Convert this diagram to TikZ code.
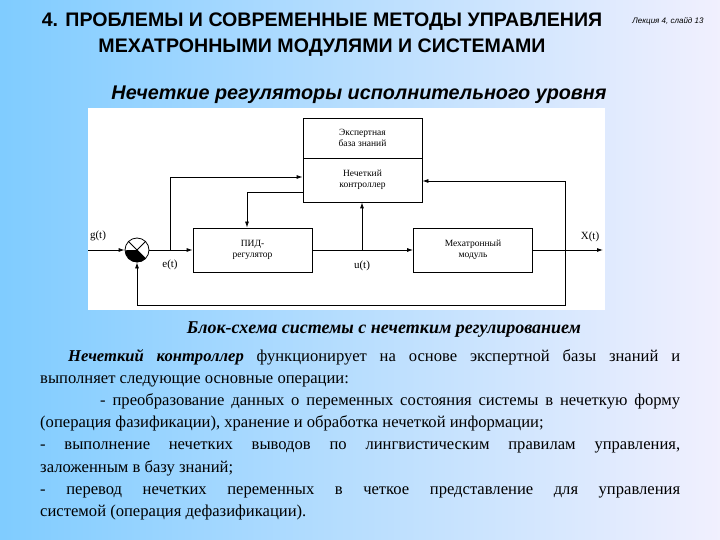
\documentclass[tikz,border=0pt]{standalone}
\usepackage{fontspec}
\setmainfont{Liberation Serif}
\newfontfamily\arialf{Liberation Sans}
\usetikzlibrary{arrows.meta}
\begin{document}
\begin{tikzpicture}[x=1pt,y=-1pt,
  blk/.style={draw,thick,minimum width=119pt,minimum height=44pt,align=center,font=\fontsize{9.5}{11}\selectfont},
  ln/.style={thick},
  ar/.style={thick,-{Latex[length=6pt,width=4pt]}},
  lbl/.style={font=\fontsize{11}{12}\selectfont}]
\shade[left color=blue!40!cyan!50!white,right color=red!8!blue!6!white,shading angle=90] (0,0) rectangle (720,540);
\useasboundingbox (0,0) rectangle (720,540);
\node[font=\arialf\bfseries\fontsize{19.6}{26}\selectfont,align=center] (title) at (322,35) {4. ПРОБЛЕМЫ И СОВРЕМЕННЫЕ МЕТОДЫ УПРАВЛЕНИЯ\\МЕХАТРОННЫМИ МОДУЛЯМИ И СИСТЕМАМИ};
\node[font=\arialf\itshape\fontsize{8}{10}\selectfont] (slide) at (668,21) {Лекция 4, слайд 13};
\node[font=\arialf\bfseries\itshape\fontsize{19.8}{22}\selectfont] (sub) at (359,95) {Нечеткие регуляторы исполнительного уровня};
\fill[white] (88,108) rectangle (605,310);
% blocks
\node[blk,minimum height=40pt] (exp) at (362.5,138) {Экспертная\\база знаний};
\node[blk] (fz) at (362.5,180) {Нечеткий\\контроллер};
\node[blk] (pid) at (252.5,250) {ПИД-\\регулятор};
\node[blk] (mm) at (473,250) {Мехатронный\\модуль};
\node[draw,thick,circle,minimum size=24pt,inner sep=0] (sum) at (137,250) {};
\draw[thick] (sum.45)--(sum.225) (sum.135)--(sum.-45);
\fill (sum.center) -- (sum.-45) arc[start angle=-45,end angle=-180,radius=12pt] -- cycle;
\coordinate (gin) at (88,250);
\coordinate (eb) at (170,250);
\coordinate (ub) at (362,250);
\coordinate (xb) at (565,250);
\coordinate (xout) at (603,250);
\draw[ar] (gin) -- (sum);
\draw[ar] (sum) -- (pid);
\draw[ar] (eb) |- (fz.west |- 0,177);
\draw[ar] (fz.west |- 0,192) -| (pid.north -| 247,0);
\draw[ar] (pid) -- (mm);
\draw[ar] (ub) -- (fz.south -| ub);
\draw[ar] (mm) -- (xout);
\draw[ar] (xb) |- (fz.east |- 0,181);
\draw[ar] (xb) |- (137,305) -- (sum.south);
\node[lbl] (g) at (98,236) {g(t)};
\node[lbl] (e) at (170,265) {e(t)};
\node[lbl] (u) at (362,266) {u(t)};
\node[lbl] (x) at (590,237) {X(t)};
\node[font=\bfseries\itshape\fontsize{18}{20}\selectfont] (cap) at (384,330) {Блок-схема системы с нечетким регулированием};
\node[anchor=north west,inner sep=0,text width=640pt,align=justify,font=\fontsize{16.6}{22.2}\selectfont] (txt) at (40,349) {\hspace*{28pt}\textbf{\textit{Нечеткий контроллер}} функционирует на основе экспертной базы знаний и\linebreak
выполняет следующие основные операции:\newline
\hspace*{60pt}- преобразование данных о переменных состояния системы в нечеткую форму\linebreak
(операция фазификации), хранение и обработка нечеткой информации;\newline
- выполнение нечетких выводов по лингвистическим правилам управления,\linebreak
заложенным в базу знаний;\newline
- перевод нечетких переменных в четкое представление для управления\linebreak
системой (операция дефазификации).};
\end{tikzpicture}
\end{document}
